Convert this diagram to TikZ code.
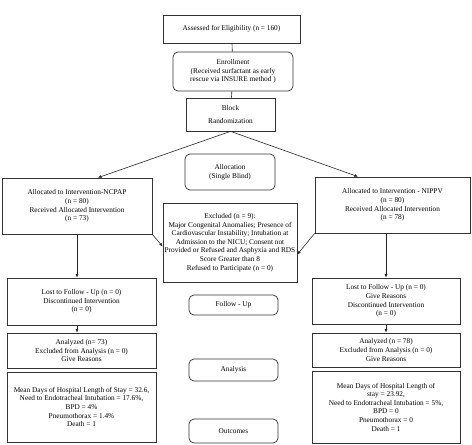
\documentclass[tikz,border=0pt]{standalone}
\usepackage{fontspec}
\setmainfont{Liberation Serif}
\usetikzlibrary{arrows.meta}
\begin{document}
\begin{tikzpicture}[x=1pt, y=-1pt,
    font=\fontsize{7.3}{8.6}\selectfont,
    box/.style={draw=black!80, line width=0.7pt, align=center, inner sep=1pt},
    stage/.style={box, rounded corners=5pt},
    link/.style={draw=black!85, line width=0.6pt},
    arrow/.style={link, -{Latex[length=3.5pt,width=3pt]}}]
  \useasboundingbox (0,0) rectangle (472,445);
  \node[box, minimum width=137pt, minimum height=28pt] (assess) at (231.5,29) {Assessed for Eligibility (n = 160)};
  \node[stage, minimum width=120pt, minimum height=39pt] (enroll) at (233,71.5) {Enrollment\\ (Received surfactant as early\\ rescue via INSURE method )};
  \node[box, minimum width=89pt, minimum height=33pt] (block) at (230.5,114.5) {Block\\[3.5pt] Randomization};
  \node[stage, minimum width=90pt, minimum height=36pt] (alloc) at (230,172) {Allocation\\ (Single Blind)};
  \node[box, minimum width=150pt, minimum height=56pt] (ncpap) at (77,206) {Allocated to Intervention-NCPAP\\ (n = 80)\\ Received Allocated Intervention\\ (n = 73)};
  \node[box, minimum width=155pt, minimum height=56pt] (nippv) at (392.5,205) {Allocated to Intervention - NIPPV\\ (n = 80)\\ Received Allocated Intervention\\ (n = 78)};
  \node[box, minimum width=134pt, minimum height=79pt] (excl) at (230,242.5) {Excluded (n = 9):\\ Major Congenital Anomalies; Presence of\\ Cardiovascular Instability; Intubation at\\ Admission to the NICU; Consent not\\ Provided or Refused and Asphyxia and RDS\\ Score Greater than 8\\ Refused to Participate (n = 0)};
  \node[stage, minimum width=89pt, minimum height=20pt] (follow) at (233.5,305) {Follow - Up};
  \node[stage, minimum width=89pt, minimum height=22pt] (analysis) at (233.5,370) {Analysis};
  \node[stage, minimum width=89pt, minimum height=24pt] (outcomes) at (233.5,431) {Outcomes};
  \node[box, minimum width=149pt, minimum height=47pt] (lostL) at (81.5,301.5) {Lost to Follow - Up (n = 0)\\ Discontinued Intervention\\ (n = 0)};
  \node[box, minimum width=149pt, minimum height=35pt] (anaL) at (81.5,350.5) {Analyzed (n= 73)\\ Excluded from Analysis (n = 0)\\ Give Reasons};
  \node[box, minimum width=149pt, minimum height=70pt] (meanL) at (81.5,407) {Mean Days of Hospital Length of Stay = 32.6,\\ Need to Endotracheal Intubation = 17.6\%,\\ BPD = 4\%\\ Pneumothorax = 1.4\%\\ Death = 1};
  \node[box, minimum width=148pt, minimum height=46pt] (lostR) at (386,301) {Lost to Follow - Up (n = 0)\\ Give Reasons\\ Discontinued Intervention\\ (n = 0)};
  \node[box, minimum width=148pt, minimum height=34pt] (anaR) at (386,350) {Analyzed (n = 78)\\ Excluded from Analysis (n = 0)\\ Give Reasons};
  \node[box, minimum width=148pt, minimum height=72pt] (meanR) at (386,407) {Mean Days of Hospital Length of\\ stay = 23.92,\\ Need to Endotracheal Intubation = 5\%,\\ BPD = 0\\ Pneumothorax = 0\\ Death = 1};
  \draw[link] (assess) -- (enroll);
  \draw[link] (enroll) -- (block);
  \draw[arrow] (block.south) -- ([xshift=21pt]ncpap.north);
  \draw[arrow] (block.south) -- ([xshift=-34.5pt]nippv.north);
  \draw[arrow] (ncpap.south east) -- ([yshift=-4pt]excl.west);
  \draw[arrow] (nippv.south west) -- ([yshift=-12pt]excl.east);
  \draw[arrow] (ncpap.south) -- (ncpap.south |- lostL.north);
  \draw[arrow] (lostL.south -| ncpap.south) -- (anaL.north -| ncpap.south);
  \draw[arrow] (lostR.north |- nippv.south) -- (lostR.north);
  \draw[arrow] (lostR.south) -- (anaR.north);
\end{tikzpicture}
\end{document}
